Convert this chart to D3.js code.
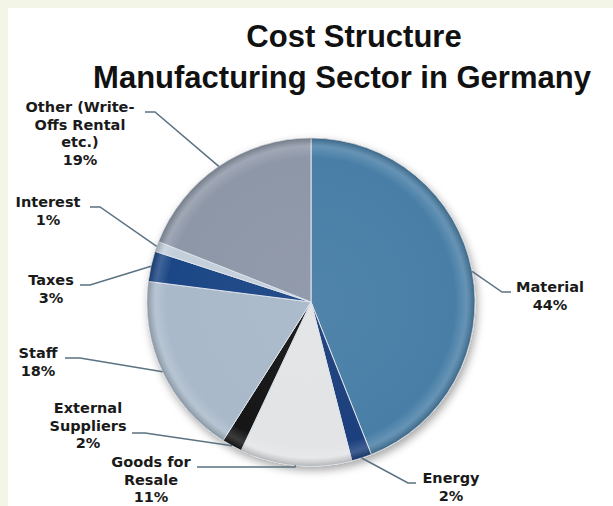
<!DOCTYPE html>
<html>
<head>
<meta charset="utf-8">
<script src="https://cdn.jsdelivr.net/npm/d3@7"></script>
<style>
  html, body { margin: 0; padding: 0; background: #f3f6e6; }
  #chart { position: absolute; left: 8px; top: 8px; }
</style>
</head>
<body>
<div id="chart"></div>
<script>
// chart data, clockwise from 12 o'clock
const categories = ["Material", "Energy", "Goods for Resale", "External Suppliers", "Staff", "Taxes", "Interest", "Other (Write-Offs Rental etc.)"];
const shares = [44, 2, 11, 2, 18, 3, 1, 19];
const labelLines = [
  ["Material", "44%"],
  ["Energy", "2%"],
  ["Goods for", "Resale", "11%"],
  ["External", "Suppliers", "2%"],
  ["Staff", "18%"],
  ["Taxes", "3%"],
  ["Interest", "1%"],
  ["Other (Write-", "Offs Rental", "etc.)", "19%"],
];
const colors = ["#4a7fa7", "#1e3f7d", "#e3e4e6", "#121416", "#a9b9ca", "#1f4786", "#c3cfdb", "#8e97a8"];

// label placement (page layout): text centre x, first baseline y, elbow point [x, y], elbow end x
const labelLayout = [
  { x: 542, y: 284, elbow: [494, 284], end: 503 },
  { x: 443, y: 475, elbow: [400, 475], end: 408 },
  { x: 143, y: 459, elbow: [287, 459], end: 189 },
  { x: 80, y: 405, elbow: [137, 425], end: 124 },
  { x: 30, y: 350, elbow: [72, 350], end: 57 },
  { x: 43, y: 277, elbow: [82, 277], end: 72 },
  { x: 40, y: 199, elbow: [92, 199], end: 82 },
  { x: 72, y: 104, elbow: [147, 104], end: 137 },
];

const width = 605, height = 498;
const cx = 303, cy = 294, radius = 164;

const data = categories.map((c, i) => ({ name: c, value: shares[i], color: colors[i], lines: labelLines[i], layout: labelLayout[i] }));

const svg = d3.select("#chart").append("svg")
  .attr("width", width)
  .attr("height", height)
  .style("background", "#fff");

const defs = svg.append("defs");
const shadow = defs.append("filter").attr("id", "shadow")
  .attr("x", "-20%").attr("y", "-20%").attr("width", "140%").attr("height", "140%");
shadow.append("feDropShadow")
  .attr("dx", 2).attr("dy", 4).attr("stdDeviation", 4)
  .attr("flood-color", "#000").attr("flood-opacity", 0.35);

const bevel = defs.append("radialGradient").attr("id", "bevel")
  .attr("gradientUnits", "userSpaceOnUse")
  .attr("cx", 0).attr("cy", 0).attr("r", radius);
bevel.append("stop").attr("offset", "0%").attr("stop-color", "#fff").attr("stop-opacity", 0.04);
bevel.append("stop").attr("offset", "88%").attr("stop-color", "#fff").attr("stop-opacity", 0);
bevel.append("stop").attr("offset", "95%").attr("stop-color", "#fff").attr("stop-opacity", 0.16);
bevel.append("stop").attr("offset", "100%").attr("stop-color", "#000").attr("stop-opacity", 0.2);

// title
const title = svg.append("g")
  .attr("font-family", "'Liberation Sans', Arial, sans-serif")
  .attr("font-weight", "bold")
  .attr("font-size", 31)
  .attr("fill", "#111")
  .attr("text-anchor", "middle");
title.append("text").attr("x", 346).attr("y", 39).text("Cost Structure");
title.append("text").attr("x", 334).attr("y", 80).text("Manufacturing Sector in Germany");

const pie = d3.pie().sort(null).value(d => d.value);
const arc = d3.arc().innerRadius(0).outerRadius(radius);
const arcs = pie(data);

const g = svg.append("g").attr("transform", `translate(${cx},${cy})`);

g.append("g")
  .attr("filter", "url(#shadow)")
  .selectAll("path")
  .data(arcs)
  .join("path")
  .attr("d", arc)
  .attr("fill", d => d.data.color)
  .attr("stroke", "#dde3ea")
  .attr("stroke-width", 1);

g.append("g")
  .attr("pointer-events", "none")
  .selectAll("path")
  .data(arcs)
  .join("path")
  .attr("d", arc)
  .attr("fill", "url(#bevel)");

// leader lines
const leaders = svg.append("g")
  .attr("fill", "none")
  .attr("stroke", "#5b7282")
  .attr("stroke-width", 1.5);
leaders.selectAll("polyline")
  .data(arcs)
  .join("polyline")
  .attr("points", d => {
    const a = (d.startAngle + d.endAngle) / 2;
    const p = [cx + radius * Math.sin(a), cy - radius * Math.cos(a)];
    const l = d.data.layout;
    return [p, l.elbow, [l.end, l.elbow[1]]].map(q => q.join(",")).join(" ");
  });

// labels
const labels = svg.append("g")
  .attr("font-family", "'DejaVu Sans', Verdana, sans-serif")
  .attr("font-weight", "bold")
  .attr("font-size", 14.5)
  .attr("fill", "#1a1a1a")
  .attr("text-anchor", "middle");
labels.selectAll("text")
  .data(data)
  .join("text")
  .attr("x", d => d.layout.x)
  .attr("y", d => d.layout.y)
  .selectAll("tspan")
  .data(d => d.lines.map(t => ({ t, x: d.layout.x })))
  .join("tspan")
  .attr("x", d => d.x)
  .attr("dy", (d, i) => i ? 17.5 : 0)
  .text(d => d.t);
</script>
</body>
</html>
